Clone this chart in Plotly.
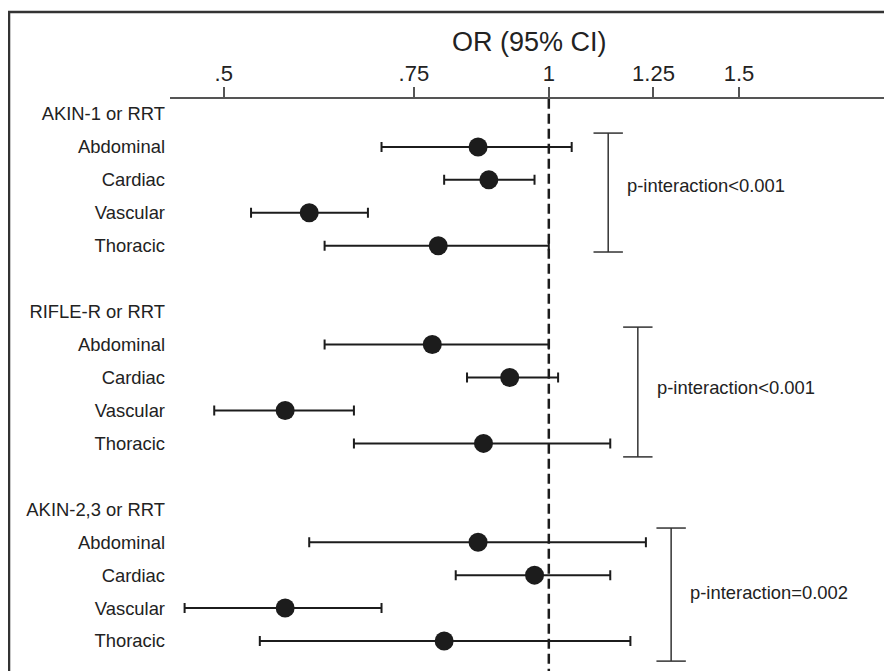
import math
import plotly.graph_objects as go

# ---- data ----
groups = ["AKIN-1 or RRT", "RIFLE-R or RRT", "AKIN-2,3 or RRT"]
surgery = ["Abdominal", "Cardiac", "Vascular", "Thoracic"]

or_akin1 = [0.86, 0.88, 0.60, 0.79]
lo_akin1 = [0.70, 0.80, 0.53, 0.62]
hi_akin1 = [1.05, 0.97, 0.68, 1.00]

or_rifle = [0.78, 0.92, 0.57, 0.87]
lo_rifle = [0.62, 0.84, 0.49, 0.66]
hi_rifle = [1.00, 1.02, 0.66, 1.14]

or_akin23 = [0.86, 0.97, 0.57, 0.80]
lo_akin23 = [0.60, 0.82, 0.46, 0.54]
hi_akin23 = [1.23, 1.14, 0.70, 1.19]

p_text = ["p-interaction<0.001", "p-interaction<0.001", "p-interaction=0.002"]

tick_vals = [0.5, 0.75, 1, 1.25, 1.5]
tick_text = [".5", ".75", "1", "1.25", "1.5"]

# ---- layout helpers ----
FONT = "Liberation Sans, Arial, Helvetica, sans-serif"
DARK = "#1c1c1c"
est = [or_akin1, or_rifle, or_akin23]
lows = [lo_akin1, lo_rifle, lo_akin23]
highs = [hi_akin1, hi_rifle, hi_akin23]

# bracket x (OR scale), top / bottom (row index), text row
brackets = [(1.135, 0.58, 4.19, 2.16),
            (1.209, 6.47, 10.41, 8.29),
            (1.298, 12.57, 16.61, 14.54)]

fig = go.Figure()

# reference line at OR = 1
fig.add_trace(go.Scatter(
    x=[1, 1], y=[-0.46, 16.95], mode="lines",
    line=dict(color=DARK, width=2.5, dash="10px,5px"),
    hoverinfo="skip", showlegend=False))

tickvals_y, ticktext_y = [], []
for g, name in enumerate(groups):
    base = 6 * g
    tickvals_y.append(base)
    ticktext_y.append(name)
    ys = [base + 1 + i for i in range(4)]
    tickvals_y += ys
    ticktext_y += surgery
    e, lo, hi = est[g], lows[g], highs[g]
    fig.add_trace(go.Scatter(
        x=e, y=ys, mode="markers",
        marker=dict(size=19, color=DARK),
        error_x=dict(type="data", symmetric=False,
                     array=[h - v for h, v in zip(hi, e)],
                     arrayminus=[v - l for v, l in zip(e, lo)],
                     color=DARK, thickness=2, width=5),
        showlegend=False))
    bx, y0, y1, ty = brackets[g]
    fig.add_trace(go.Scatter(
        x=[bx, bx], y=[y0, y1], mode="lines+markers",
        line=dict(color="#333333", width=1.5),
        marker=dict(symbol="line-ew", size=21,
                    line=dict(color="#333333", width=1.5)),
        hoverinfo="skip", showlegend=False))
    fig.add_annotation(x=math.log10(bx), y=ty, xref="x", yref="y",
                       text=p_text[g], showarrow=False, xanchor="left",
                       yanchor="middle", xshift=17,
                       font=dict(family=FONT, size=18.4, color="#222222"))

# axis title
fig.add_annotation(x=0.5, y=1.099, xref="paper", yref="paper",
                   text="OR (95% CI)", showarrow=False,
                   xanchor="center", yanchor="middle",
                   font=dict(family=FONT, size=27, color="#222222"))

# outer frame
fig.add_shape(type="rect", xref="paper", yref="paper",
              x0=-0.2242, x1=1.2, y0=-0.2, y1=1.152,
              line=dict(color="#333333", width=2.5), layer="below")

fig.update_layout(
    width=884, height=663,
    margin=dict(l=162, r=4, t=91, b=0),
    paper_bgcolor="white", plot_bgcolor="white",
    font=dict(family=FONT, color="#222222"),
    showlegend=False,
    template="none",
)
fig.update_xaxes(
    type="log", side="top",
    range=[math.log10(0.4459), math.log10(2.061)],
    tickvals=tick_vals, ticktext=tick_text,
    ticks="outside", ticklen=10, tickwidth=1.5, tickcolor="#555555",
    showline=True, linecolor="#555555", linewidth=1.5,
    showgrid=False, zeroline=False, automargin=False,
    ticklabelstandoff=-3,
    tickfont=dict(family=FONT, size=22, color="#222222"),
)
fig.update_yaxes(
    range=[16.91, -0.455],
    tickvals=tickvals_y, ticktext=ticktext_y,
    ticks="", showline=False, showgrid=False, zeroline=False,
    automargin=False, ticklabelstandoff=4,
    tickfont=dict(family=FONT, size=18.4, color="#222222"),
)

fig.write_html("out.html")
